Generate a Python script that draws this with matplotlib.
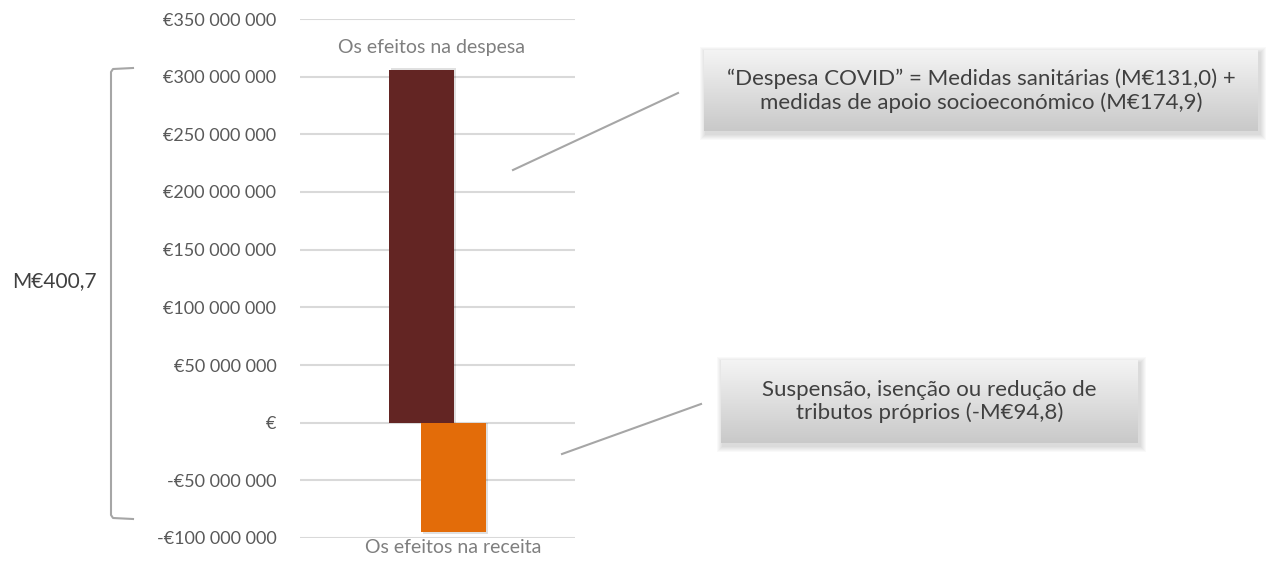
import numpy as np
import matplotlib
matplotlib.use('Agg')
import matplotlib.pyplot as plt
from matplotlib.patches import Rectangle
from matplotlib.ticker import FuncFormatter

# data
series = ['Os efeitos na despesa', 'Os efeitos na receita']
values = [305.9e6, -94.8e6]
colors = ['#632523', '#E36C09']
total_label = 'M€400,7'
notes = ['“Despesa COVID” = Medidas sanitárias (M€131,0) +\nmedidas de apoio socioeconómico (M€174,9)',
         'Suspensão, isenção ou redução de\ntributos próprios (-M€94,8)']

plt.rcParams['font.family'] = ['Lato', 'DejaVu Sans']
W, H = 1271, 566
fig = plt.figure(figsize=(W/100, H/100), dpi=100)

def fx(px):
    return px / W

def fy(py):
    return 1 - py / H

# main axes: plot area 300..575 px, y 19..538 px
ax = fig.add_axes([fx(300), fy(538), fx(575) - fx(300), fy(19) - fy(538)])
ax.set_xlim(0, 1)
ax.set_ylim(-100e6, 350e6)
ax.set_yticks(np.arange(-100e6, 350e6 + 1, 50e6))

def euro(v, pos):
    if v == 0:
        return '€'
    s = f'{abs(v):,.0f}'.replace(',', ' ')
    return ('-€' if v < 0 else '€') + s

ax.yaxis.set_major_formatter(FuncFormatter(euro))
ax.tick_params(axis='y', length=0, pad=17, labelsize=13, labelcolor='#595959')
ax.set_xticks([])
ax.grid(axis='y', color='#d9d9d9', linewidth=1.5)
ax.set_axisbelow(True)
for s in ax.spines.values():
    s.set_visible(False)

bw = 0.236
offs = [-0.058, 0.058]
for i in range(2):
    x = 0.5 + offs[i]
    # soft shadow
    ax.bar(x + 0.006, values[i] + np.sign(values[i]) * 1.5e6, width=bw, color='black', alpha=0.12, zorder=2)
    ax.bar(x, values[i], width=bw, color=colors[i], zorder=3)

ax.text(0.5 + offs[0] + 0.035, values[0] + 12e6, series[0], ha='center', va='bottom',
        fontsize=14, color='#7f7f7f')
ax.text(0.5 + offs[1], values[1] - 6e6, series[1], ha='center', va='top',
        fontsize=14, color='#7f7f7f')

# overlay in pixel coords
ov = fig.add_axes([0, 0, 1, 1], zorder=5)
ov.set_xlim(0, W)
ov.set_ylim(H, 0)
ov.axis('off')
ov.patch.set_alpha(0)

# bracket
bc = '#a6a6a6'
ov.plot([133, 113, 111, 111, 113, 133], [68, 69, 72, 515, 518, 519], color=bc, lw=1.5)
ov.text(54, 281, total_label, ha='center', va='center', fontsize=15, color='#404040')

grad = np.linspace(0, 1, 100).reshape(-1, 1)
cmap = matplotlib.colors.LinearSegmentedColormap.from_list('g', ['#f4f4f4', '#c9c9c9'])

def callout(x0, y0, x1, y1, text, line):
    for k in range(6, 0, -1):
        ov.add_patch(Rectangle((x0 + 2 - k, y0 + 3 - k), x1 - x0 + 2*k, y1 - y0 + 2*k,
                               color='black', alpha=0.025, lw=0, zorder=1))
    ov.imshow(grad, cmap=cmap, extent=(x0, x1, y1, y0), aspect='auto', zorder=2)
    ov.text((x0 + x1)/2, (y0 + y1)/2, text, ha='center', va='center', fontsize=16,
            color='#404040', linespacing=1.2, zorder=3)
    ov.plot(line[0], line[1], color='#a6a6a6', lw=1.5, zorder=3)

callout(704, 50, 1258, 131, notes[0], ([513, 678], [170, 93]))
callout(721, 360, 1138, 443, notes[1], ([562, 701], [454, 404]))
ov.set_xlim(0, W)
ov.set_ylim(H, 0)

fig.savefig('out.png', dpi=100)
